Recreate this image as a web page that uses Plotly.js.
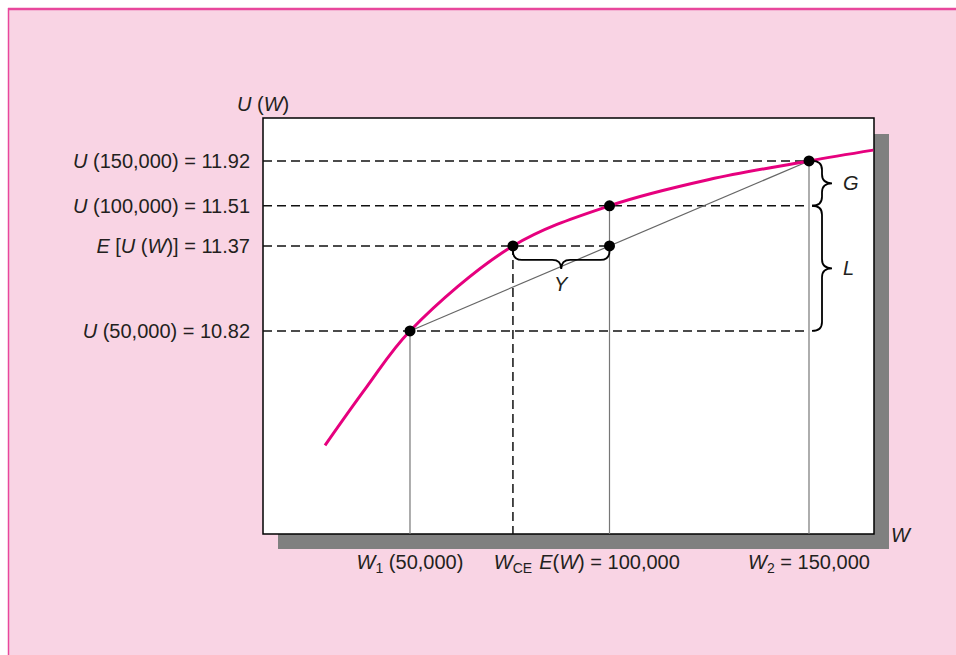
<!DOCTYPE html>
<html>
<head>
<meta charset="utf-8">
<script src="https://cdn.plot.ly/plotly-3.0.1.min.js"></script>
<style>html,body{margin:0;padding:0;background:#fff;}#chart{width:956px;height:655px;}</style>
</head>
<body>
<div id="chart"></div>
<script>
// ---- data ----
// magenta utility curve (W, drawn height of U)
const curveW = [28700, 39200, 50000, 75800, 100000, 125000, 150000, 166100];
const curveU = [10.08, 10.46, 10.82, 11.37, 11.63, 11.80, 11.92, 11.99];

// key wealth levels
const W1 = 50000, WCE = 75800, EW = 100000, W2 = 150000;
// utility levels as drawn in the figure
const uLow = 10.82, uEU = 11.37, uMid = 11.63, uHigh = 11.92;

// tick labels
const yTickVals = [uLow, uEU, uMid, uHigh];
const yTickText = [
  '<i>U</i> (50,000) = 10.82',
  '<i>E</i> [<i>U</i> (<i>W</i>)] = 11.37',
  '<i>U</i> (100,000) = 11.51',
  '<i>U</i> (150,000) = 11.92'
];
const xTickVals = [W1, WCE, EW, W2];
const xTickText = [
  '<i>W</i><sub>1</sub> (50,000)',
  '<i>W</i><sub>CE</sub>',
  '<i>E</i>(<i>W</i>) = 100,000',
  '<i>W</i><sub>2</sub> = 150,000'
];

// ---- layout geometry ----
const FIG_W = 956, FIG_H = 655;
const M = {l: 263, r: 82, t: 118, b: 121};
const PW = FIG_W - M.l - M.r, PH = FIG_H - M.t - M.b;
const xRange = [13160, 166290];
const yRange = [9.506, 12.198];

function xp(px) { return (px - M.l) / PW; }            // pixel -> paper x
function yp(py) { return 1 - (py - M.t) / PH; }        // pixel -> paper y
function xPix(w) { return M.l + (w - xRange[0]) / (xRange[1] - xRange[0]) * PW; }
function yPix(u) { return M.t + (yRange[1] - u) / (yRange[1] - yRange[0]) * PH; }
function wOf(px) { return xRange[0] + (px - M.l) / PW * (xRange[1] - xRange[0]); }
function uOf(py) { return yRange[1] - (py - M.t) / PH * (yRange[1] - yRange[0]); }

// curly brace path (vertical, tip to the right) in data coordinates
function vBrace(w, u1, u2, off, depth) {
  const x0 = xPix(w) + off, y1 = yPix(u1), y2 = yPix(u2);
  const ym = (y1 + y2) / 2, h = depth * 0.5, q = Math.min(9, (y2 - y1) / 4);
  const P = (x, y) => wOf(x) + ',' + uOf(y);
  return 'M' + P(x0, y1) +
    ' Q' + P(x0 + h, y1) + ' ' + P(x0 + h, y1 + q) +
    ' L' + P(x0 + h, ym - q) +
    ' Q' + P(x0 + h, ym) + ' ' + P(x0 + depth, ym) +
    ' Q' + P(x0 + h, ym) + ' ' + P(x0 + h, ym + q) +
    ' L' + P(x0 + h, y2 - q) +
    ' Q' + P(x0 + h, y2) + ' ' + P(x0, y2);
}
// horizontal brace (tip downward)
function hBrace(u, w1, w2, off, depth) {
  const y0 = yPix(u) + off, x1 = xPix(w1), x2 = xPix(w2);
  const xm = (x1 + x2) / 2, h = depth * 0.5, q = Math.min(9, (x2 - x1) / 4);
  const P = (x, y) => wOf(x) + ',' + uOf(y);
  return 'M' + P(x1, y0) +
    ' Q' + P(x1, y0 + h) + ' ' + P(x1 + q, y0 + h) +
    ' L' + P(xm - q, y0 + h) +
    ' Q' + P(xm, y0 + h) + ' ' + P(xm, y0 + depth) +
    ' Q' + P(xm, y0 + h) + ' ' + P(xm + q, y0 + h) +
    ' L' + P(x2 - q, y0 + h) +
    ' Q' + P(x2, y0 + h) + ' ' + P(x2, y0);
}

const FONT = 'Liberation Sans, Arial, Helvetica, sans-serif';
const TXT = '#231f20';
const MAG = '#e6007e';
const yBot = yRange[0], xLeft = xRange[0];

const traces = [
  { // horizontal dashed guides
    x: [xLeft, W2, null, xLeft, W2, null, xLeft, EW, null, xLeft, W2],
    y: [uHigh, uHigh, null, uMid, uMid, null, uEU, uEU, null, uLow, uLow],
    mode: 'lines', line: {color: '#111', width: 1.5, dash: '9px,5px'}, hoverinfo: 'skip'
  },
  { // vertical dashed at W_CE
    x: [WCE, WCE], y: [uEU, yBot],
    mode: 'lines', line: {color: '#111', width: 1.5, dash: '9px,5px'}, hoverinfo: 'skip'
  },
  { // vertical solid drops
    x: [W1, W1, null, EW, EW, null, W2, W2],
    y: [uLow, yBot, null, uMid, yBot, null, uHigh, yBot],
    mode: 'lines', line: {color: '#777', width: 1.2}, hoverinfo: 'skip'
  },
  { // chord
    x: [W1, W2], y: [uLow, uHigh],
    mode: 'lines', line: {color: '#666', width: 1.2}, hoverinfo: 'skip'
  },
  { // utility curve
    x: curveW, y: curveU, mode: 'lines',
    line: {color: MAG, width: 3, shape: 'spline', smoothing: 1}, hoverinfo: 'skip'
  },
  { // points
    x: [W1, WCE, EW, EW, W2], y: [uLow, uEU, uEU, uMid, uHigh],
    mode: 'markers', marker: {color: '#000', size: 11}, hoverinfo: 'skip'
  }
];

const shapes = [
  // pink frame
  {type: 'rect', xref: 'paper', yref: 'paper', x0: xp(9), x1: xp(960), y0: yp(9), y1: yp(660),
   fillcolor: '#f9d4e4', line: {width: 0}, layer: 'below'},
  {type: 'line', xref: 'paper', yref: 'paper', x0: xp(8), x1: xp(960), y0: yp(9), y1: yp(9),
   line: {color: '#e8479c', width: 2.5}, layer: 'below'},
  {type: 'line', xref: 'paper', yref: 'paper', x0: xp(8.5), x1: xp(8.5), y0: yp(8), y1: yp(660),
   line: {color: '#e8479c', width: 1.5}, layer: 'below'},
  // shadow
  {type: 'rect', xref: 'paper', yref: 'paper', x0: xp(278), x1: xp(889), y0: yp(134), y1: yp(549),
   fillcolor: '#808080', line: {width: 0}, layer: 'below'},
  // white plot box
  {type: 'rect', xref: 'paper', yref: 'paper', x0: 0, x1: 1, y0: 0, y1: 1,
   fillcolor: '#ffffff', line: {color: '#000', width: 1.5}, layer: 'below'},
  // braces
  {type: 'path', xref: 'x', yref: 'y', path: vBrace(W2, uHigh, uMid, 3, 20), line: {color: '#000', width: 1.8}},
  {type: 'path', xref: 'x', yref: 'y', path: vBrace(W2, uMid, uLow, 3, 20), line: {color: '#000', width: 1.8}},
  {type: 'path', xref: 'x', yref: 'y', path: hBrace(uEU, WCE, EW, 5, 18), line: {color: '#000', width: 1.8}}
];

const annFont = {family: FONT, size: 20, color: TXT};
const annotations = [
  {xref: 'paper', yref: 'paper', x: xp(263), y: yp(104), text: '<i>U</i> (<i>W</i>)', showarrow: false,
   xanchor: 'center', yanchor: 'middle', font: annFont},
  {xref: 'paper', yref: 'paper', x: xp(901), y: yp(535), text: '<i>W</i>', showarrow: false,
   xanchor: 'center', yanchor: 'middle', font: annFont},
  {xref: 'x', yref: 'y', x: (WCE + EW) / 2, y: uEU, yshift: -38, text: '<i>Y</i>', showarrow: false,
   xanchor: 'center', yanchor: 'middle', font: annFont},
  {xref: 'x', yref: 'y', x: W2, xshift: 42, y: (uHigh + uMid) / 2, text: '<i>G</i>', showarrow: false,
   xanchor: 'center', yanchor: 'middle', font: annFont},
  {xref: 'x', yref: 'y', x: W2, xshift: 39, y: (uMid + uLow) / 2, text: '<i>L</i>', showarrow: false,
   xanchor: 'center', yanchor: 'middle', font: annFont}
];

const layout = {
  width: FIG_W, height: FIG_H,
  margin: M,
  paper_bgcolor: '#ffffff',
  plot_bgcolor: 'rgba(0,0,0,0)',
  showlegend: false,
  font: {family: FONT, size: 20, color: TXT},
  xaxis: {
    range: xRange, showgrid: false, zeroline: false, showline: false,
    tickmode: 'array', tickvals: xTickVals, ticktext: xTickText, tickangle: 0,
    ticks: 'outside', ticklen: 10, tickcolor: 'rgba(0,0,0,0)',
    tickfont: {family: FONT, size: 20, color: TXT}, fixedrange: true
  },
  yaxis: {
    range: yRange, showgrid: false, zeroline: false, showline: false,
    tickmode: 'array', tickvals: yTickVals, ticktext: yTickText,
    ticks: 'outside', ticklen: 8, tickcolor: 'rgba(0,0,0,0)',
    tickfont: {family: FONT, size: 20, color: TXT}, fixedrange: true
  },
  shapes: shapes,
  annotations: annotations
};

Plotly.newPlot('chart', traces, layout, {staticPlot: true, displayModeBar: false});
</script>
</body>
</html>
